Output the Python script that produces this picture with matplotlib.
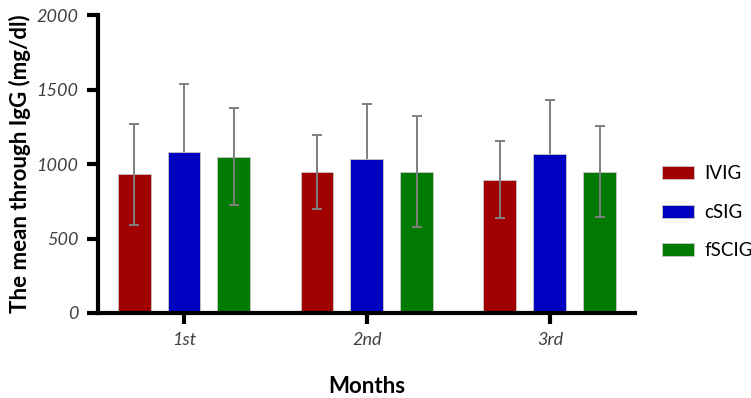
import matplotlib

matplotlib.use("Agg")
import matplotlib.pyplot as plt
import numpy as np

months = ["1st", "2nd", "3rd"]
groups = ["IVIG", "cSIG", "fSCIG"]
means = {
    "IVIG": [930, 945, 895],
    "cSIG": [1080, 1035, 1065],
    "fSCIG": [1050, 950, 950],
}
sds = {
    "IVIG": [340, 250, 260],
    "cSIG": [455, 365, 365],
    "fSCIG": [325, 375, 308],
}
colors = {"IVIG": "#a00000", "cSIG": "#0000c0", "fSCIG": "#007a00"}

plt.rcParams["font.family"] = ["Lato", "DejaVu Sans"]

fig = plt.figure(figsize=(7.51, 3.98), dpi=100)
ax = fig.add_axes([0.1305, 0.2136, 0.715, 0.7484])

x = np.arange(len(months))
step, width = 0.273, 0.18
for i, g in enumerate(groups):
    pos = x + (i - 1) * step
    ax.bar(pos, means[g], width, color=colors[g], edgecolor="#c8c8c8",
           linewidth=0.6, label=g, zorder=2)
    # the cSIG whiskers sit behind the bar in the original, only the top shows
    ax.errorbar(pos, means[g], yerr=sds[g], fmt="none", ecolor="#7f7f7f",
                elinewidth=1.4, capsize=3.5, capthick=1.4,
                zorder=1 if g == "cSIG" else 3)

ax.set_xlim(-0.47, 2.465)
ax.set_ylim(0, 2000)
ax.set_yticks([0, 500, 1000, 1500, 2000])
ax.set_xticks(x)
ax.set_xticklabels(months)
for lab in ax.get_xticklabels() + ax.get_yticklabels():
    lab.set_fontstyle("italic")
    lab.set_color("#404040")
    lab.set_fontsize(13)

for side in ["top", "right"]:
    ax.spines[side].set_visible(False)
for side in ["left", "bottom"]:
    ax.spines[side].set_linewidth(3)
ax.tick_params(axis="both", width=3, length=8, pad=6)

ax.set_ylabel("The mean through IgG (mg/dl)", fontsize=16, fontweight="bold", labelpad=4)
ax.set_xlabel("Months", fontsize=16, fontweight="bold", labelpad=20)

fig.legend(loc="center left", bbox_to_anchor=(0.882, 0.467), frameon=False,
           fontsize=13.5, handlelength=1.7, handleheight=0.7,
           labelspacing=1.15, handletextpad=0.55, borderaxespad=0, borderpad=0)

plt.savefig("out.png", dpi=100)
